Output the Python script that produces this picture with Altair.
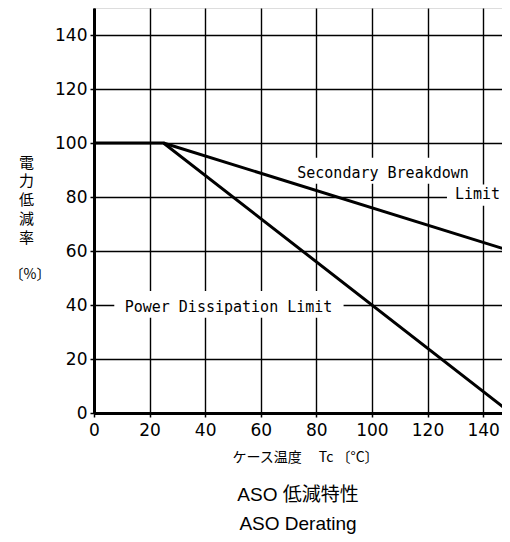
import altair as alt
import pandas as pd

# --- data ---
pd_x = [0, 25, 150]          # Power Dissipation Limit
pd_y = [100, 100, 0]
sb_x = [25, 150]             # Secondary Breakdown Limit
sb_y = [100, 60]

label_text = ["Secondary Breakdown", "Limit", "Power Dissipation Limit"]
label_x = [104, 138, 48.4]
label_y = [89, 81, 39.3]

box_x = [69.3, 127, 7.3]
box_x2 = [139.4, 146.8, 89.8]
box_y = [84.9, 76.8, 35.3]
box_y2 = [94.5, 84.6, 45.2]

x_grid = list(range(0, 141, 10))
y_grid = list(range(0, 151, 10))

y_title_lines = ["電", "力", "低", "減", "率"]
y_unit = "〔%〕"

lines = pd.DataFrame(
    {"x": pd_x + sb_x, "y": pd_y + sb_y,
     "series": ["pd"] * len(pd_x) + ["sb"] * len(sb_x),
     "order": list(range(len(pd_x))) + list(range(len(sb_x)))}
)
labels = pd.DataFrame({"t": label_text, "x": label_x, "y": label_y})
boxes = pd.DataFrame({"x": box_x, "x2": box_x2, "y": box_y, "y2": box_y2})
unit_df = pd.DataFrame({"t": [y_unit]})

label_expr = "datum.value % 20 == 0 ? datum.label : ''"
tick_op = alt.ExprRef(expr="datum.value % 20 == 0 ? 1 : 0")

xscale = alt.Scale(domain=[0, 146.8], nice=False)
yscale = alt.Scale(domain=[0, 150], nice=False)

common = dict(
    grid=True, gridColor="black", gridWidth=1.4, gridOpacity=1,
    domainColor="black", domainWidth=3,
    tickColor="black", tickSize=4, tickWidth=1.5, tickOpacity=tick_op,
    labelExpr=label_expr, labelFont="DejaVu Sans", labelFontSize=17,
    labelColor="black", labelFlush=False,
)

xaxis = alt.Axis(
    values=x_grid, labelPadding=5,
    title="ケース温度\u3000  Tc  〔°C〕", titleFont="Noto Sans CJK JP",
    titleFontSize=14, titleFontWeight="normal", titleColor="black",
    titlePadding=12, titleX=211, **common,
)
yaxis = alt.Axis(
    values=y_grid, labelPadding=3,
    title=y_title_lines,
    titleFont="Noto Sans CJK JP", titleFontSize=15, titleFontWeight="normal",
    titleColor="black", titleAngle=0, titleAlign="center", titleBaseline="top",
    titleLineHeight=18.75, titleX=-68, titleY=147, **common,
)

base = alt.Chart(lines)

line_layer = base.mark_line(color="black", strokeWidth=3, clip=True).encode(
    x=alt.X("x:Q", scale=xscale, axis=xaxis),
    y=alt.Y("y:Q", scale=yscale, axis=yaxis),
    detail="series:N",
    order="order:Q",
)

box_layer = alt.Chart(boxes).mark_rect(color="white", clip=True).encode(
    x=alt.X("x:Q", scale=xscale), x2="x2:Q",
    y=alt.Y("y:Q", scale=yscale), y2="y2:Q",
)

text_layer = alt.Chart(labels).mark_text(
    font="DejaVu Sans Mono", fontSize=15, color="black",
).encode(
    x=alt.X("x:Q", scale=xscale), y=alt.Y("y:Q", scale=yscale), text="t:N"
)

unit_layer = alt.Chart(unit_df).mark_text(
    font="Noto Sans CJK JP", fontSize=14, fill="black", color="black",
    align="center", baseline="middle",
).encode(x=alt.value(-64), y=alt.value(267), text="t:N")

chart = alt.layer(box_layer, line_layer, text_layer, unit_layer).properties(
    width=408, height=405,
    autosize=alt.AutoSizeParams(type="none"),
    padding={"left": 86, "top": 0, "right": 0, "bottom": 124},
    title=alt.TitleParams(
        text=["ASO 低減特性", "ASO Derating"], orient="bottom", anchor="middle",
        font="Liberation Sans, Noto Sans CJK JP", fontSize=19, fontWeight="normal",
        lineHeight=29, color="black", offset=22,
    ),
).configure_view(stroke=None).configure(background="white")

chart.save("out.html", embed_options={"renderer": "svg", "actions": False})
